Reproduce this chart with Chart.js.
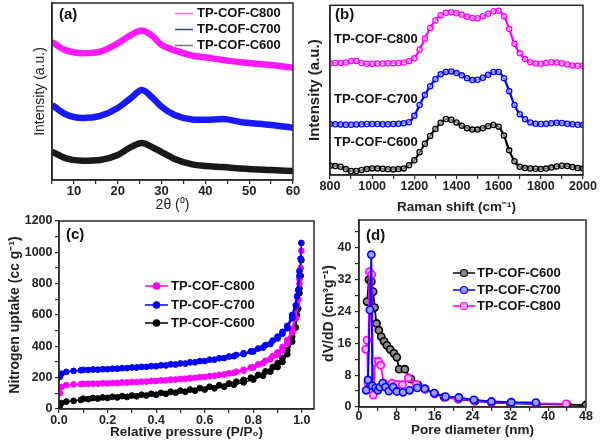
<!DOCTYPE html>
<html><head><meta charset="utf-8">
<script src="https://cdn.jsdelivr.net/npm/chart.js@4/dist/chart.umd.min.js"></script>
<style>
html,body{margin:0;padding:0;background:#fff;}
#wrap{position:relative;width:600px;height:445px;overflow:hidden;}
canvas{position:absolute;left:0;top:0;}
</style></head><body>
<div id="wrap">
<canvas id="ca" width="600" height="445"></canvas>
<canvas id="cb" width="600" height="445"></canvas>
<canvas id="cc" width="600" height="445"></canvas>
<canvas id="cd" width="600" height="445"></canvas>
</div>
<script>
// ---------- DATA ----------
const seriesNames = ['TP-COF-C800','TP-COF-C700','TP-COF-C600'];

// (a) XRD
const xrdAngle = [5,8,12,16,20,23,25.5,28,30,33,37,40,44,48,55,60];
const xrdC800 = [78.0,73.4,71.6,72.5,77.2,81.9,84.4,81.1,76.3,73.2,70.3,69.3,67.8,66.5,65.0,63.4];
const xrdC700 = [42.4,37.3,35.0,36.2,40.7,46.3,50.8,46.3,41.4,36.7,34.2,34.0,34.4,32.8,31.1,29.5];
const xrdC600 = [16.0,12.4,10.9,11.3,14.1,18.6,20.9,18.4,15.8,11.9,8.8,7.9,7.3,6.5,5.6,5.1];

// (b) Raman
const ramanShift = [800,825,850,875,900,925,950,975,1000,1025,1050,1075,1100,1125,1150,1175,1200,1225,1250,1275,1300,1325,1350,1375,1400,1425,1450,1475,1500,1525,1550,1575,1600,1625,1650,1675,1700,1725,1750,1775,1800,1825,1850,1875,1900,1925,1950,1975,2000];
const ramanC800 = [113.3,113.5,113.5,114,115.5,115.5,113.5,112.7,112.7,113,113,113.2,113.3,113.5,114,115.5,118.3,127,138.3,149,156.7,162,164.5,165,164,162.5,160.5,159.2,159,161,163.5,166,166.5,161,148,133,123.3,117.5,114.3,113,112.7,113.5,114.3,114,113.3,112,111,110.7,110.7];
const ramanC700 = [51.7,51.5,51.3,51,51,51.2,51.5,51.7,51.7,51.7,51.5,51.5,51.7,52,52.5,53.5,60,71,81,90,97,102,104.5,105,103.3,101,98,96.2,96.5,98.5,101.5,104.5,104.5,98,85,71,61.7,56.5,53.3,52,51.7,52,52.5,53,52.7,52,51.5,51,50.7];
const ramanC600 = [9.3,9,8.3,6,4,4,5,6,6.7,6.7,6.3,5.8,5.7,6,6.7,10,15,23,31.7,39.5,46.7,53,56.7,56,53.3,50,47.5,46,46,47.5,49.5,50.7,49,40,25,14,8.3,7,6.7,6.3,6,6.5,7.5,8.7,9.3,9,8,7,6.7];

// (c) N2 isotherms
const pressureAds = [0.003,0.01,0.03,0.06,0.09,0.12,0.16,0.2,0.24,0.28,0.32,0.36,0.4,0.44,0.48,0.52,0.56,0.6,0.64,0.68,0.72,0.76,0.8,0.84,0.87,0.9,0.92,0.94,0.96,0.975,0.985,0.99,0.995,0.998];
const uptakeAdsC700 = [205,225,237,243,247,249,251,254,257,261,265,269,273,278,284,290,298,306,315,325,337,350,367,392,415,450,480,515,580,660,760,850,960,1060];
const uptakeAdsC800 = [100,140,152,157,159,161,162,164,166,169,172,175,179,183,188,193,199,205,212,220,230,245,265,292,318,345,375,420,490,580,700,800,900,1010];
const uptakeAdsC600 = [15,38,47,52,58,63,67,71,74,77,81,86,91,97,104,110,117,124,132,142,155,170,188,212,238,268,300,350,430,520,640,740,850,950];
const pressureDes = [0.99,0.98,0.96,0.94,0.92,0.9,0.88,0.85,0.82,0.79,0.76,0.73,0.7,0.66,0.62,0.58,0.54,0.5,0.46,0.42,0.38,0.34,0.3,0.26,0.22,0.18,0.14,0.1];
const uptakeDesC700 = [880,720,600,530,492,462,437,408,386,368,356,345,335,324,315,306,298,291,285,279,274,269,265,261,257,254,252,250];
const uptakeDesC800 = [830,660,510,440,395,362,338,308,285,265,250,238,228,218,210,203,197,192,187,183,179,175,172,169,166,164,162,161];
const uptakeDesC600 = [770,600,460,375,325,292,268,240,218,200,186,174,163,152,142,133,124,117,110,103,97,91,86,82,78,74,70,66];

// (d) pore size distribution
const poreC600 = [1.7,2.1,2.6,3.0,3.3,3.7,4.2,4.7,5.3,5.9,6.6,7.4,8.0,8.5,9.7,11,12.5,14,16,18,21,24.5,28,32,37.5,44,48];
const dvC600 = [26.5,32,31.5,29,25,21,19.3,17.7,16.5,15.5,14.5,13.5,12.5,9.5,9.5,7,5.5,4.5,3.3,2.5,2,1.5,1.1,0.9,0.7,0.6,0.5];
const poreC700 = [1.5,1.9,2.3,2.6,2.8,3.5,4.0,4.4,5.0,5.6,6.3,7.2,8.0,9.3,10.7,12.3,13.9,15.9,18.3,21.1,24.3,28,32.2,37.4];
const dvC700 = [4.2,6.8,24.4,38.3,5.3,4.8,4.2,5.0,6.0,5.0,4.0,5.0,3.9,3.7,4.2,4.8,4.6,3.5,2.6,2.4,1.8,1.4,1.2,1.1];
const poreC800 = [1.4,1.7,1.9,2.2,2.7,3.0,3.4,4.1,4.6,5.2,7.0,8.1,9.2,10.4,12.1,14,16,18.3,21,24.3,28,32.2,37.4,43.8];
const dvC800 = [14.5,16.8,6,34,33.3,3,11.4,11.5,10.5,6,6,5.7,5.6,7.3,5.7,4.4,3.3,2.4,2.1,1.6,1.2,1.0,0.9,0.8];

// ---------- STYLE ----------
const FONT = "'Liberation Sans', Arial, Helvetica, sans-serif";
Chart.defaults.font.family = FONT;
Chart.defaults.color = '#222';
Chart.defaults.animation = false;
const MAG = '#ff00ff', BLU = '#0000ff', BLK = '#000000';
const AX = '#2a2a2a';

function pairs(xs, ys){ return xs.map((x,i)=>({x:x, y:ys[i]})); }

function mkScale(o){
  return {
    type:'linear', min:o.min, max:o.max, position:o.pos,
    afterFit:(s)=>{ if(o.w!==undefined) s.width=o.w; if(o.h!==undefined) s.height=o.h; },
    afterBuildTicks:(s)=>{
      const t=[]; const n=Math.floor((o.max-o.min)/o.step+1e-9);
      for(let k=0;k<=n;k++) t.push({value: +(o.min+k*o.step).toFixed(6)});
      s.ticks=t;
    },
    border:{display:true,color:AX,width:1.5},
    grid:{display:o.grid!==false, drawOnChartArea:false, drawTicks:true, tickLength:4, color:AX, lineWidth:1.2},
    ticks:{display:o.ticks!==false, stepSize:o.step, autoSkip:false, maxRotation:0,
      padding:o.pad||0, font:{size:o.tfs||12.5, weight:'bold'}, color:'#222',
      callback:(v)=> o.major(v) ? o.fmt(v) : ''},
    title:{display:true, text:o.title, font:{size:o.fs, weight:o.fw||'bold'}, color:'#222', padding:o.tpad}
  };
}
function isMult(v,m){ const r=v/m; return Math.abs(r-Math.round(r))<1e-6; }

function deco(opts){
  return {id:'deco'+opts.tag, afterDraw(chart){
    const ctx=chart.ctx, a=chart.chartArea;
    ctx.save();
    ctx.strokeStyle=AX; ctx.lineWidth=1.5;
    ctx.strokeRect(a.left,a.top,a.right-a.left,a.bottom-a.top);
    ctx.fillStyle='#111'; ctx.textBaseline='middle'; ctx.textAlign='left';
    ctx.font="bold 15px "+FONT;
    ctx.fillText(opts.panel, opts.px, opts.py);
    (opts.texts||[]).forEach(t=>{ ctx.font="bold "+t.fs+"px "+FONT; ctx.fillStyle='#111'; ctx.fillText(t.text,t.x,t.y); });
    (opts.legend||[]).forEach(L=>{
      ctx.strokeStyle=L.line; ctx.lineWidth=L.lw||1.5;
      ctx.beginPath(); ctx.moveTo(L.x1,L.y); ctx.lineTo(L.x2,L.y); ctx.stroke();
      if(L.r){ ctx.beginPath(); ctx.arc((L.x1+L.x2)/2,L.y,L.r,0,Math.PI*2); ctx.fillStyle=L.fill; ctx.fill(); ctx.strokeStyle=L.line; ctx.lineWidth=1.2; ctx.stroke(); }
      ctx.fillStyle='#111'; ctx.font="bold 13px "+FONT;
      ctx.fillText(L.text,L.tx,L.y);
    });
    ctx.restore();
  }};
}

// ---------- (a) ----------
function xrdSet(label,data,color){
  return {label, data:pairs(xrdAngle,data), borderColor:color, borderWidth:6.5, pointRadius:0,
    cubicInterpolationMode:'monotone', fill:false};
}
new Chart(document.getElementById('ca'), {
  type:'line',
  data:{datasets:[xrdSet(seriesNames[0],xrdC800,'rgba(255,0,255,0.9)'), xrdSet(seriesNames[1],xrdC700,'rgba(0,0,255,0.9)'), xrdSet(seriesNames[2],xrdC600,'rgba(0,0,0,0.9)')]},
  options:{responsive:false, devicePixelRatio:1, animation:false,
    layout:{padding:{left:0,right:307,top:3,bottom:225}},
    plugins:{legend:{display:false}, tooltip:{enabled:false}},
    scales:{
      x:mkScale({min:5,max:60,step:5,pos:'bottom',h:40,tfs:13,major:v=>isMult(v,10),fmt:v=>String(v),title:'2θ (⁰)',fs:14,fw:'normal',tpad:{top:0,bottom:6.6}}),
      y:mkScale({min:0,max:100,step:10,pos:'left',w:52,grid:false,ticks:false,major:()=>false,fmt:v=>'',title:'Intensity (a.u.)',fs:14,fw:'normal',tpad:{top:31.6,bottom:0}})
    }},
  plugins:[deco({tag:'a',panel:'(a)',px:59,py:15,legend:[
    {text:seriesNames[0],line:'#ff66ff',x1:175,x2:193,tx:197,y:13.5},
    {text:seriesNames[1],line:'#3333ff',x1:175,x2:193,tx:197,y:29.5},
    {text:seriesNames[2],line:'#777777',x1:175,x2:193,tx:197,y:45.5}]})]
});

// ---------- (b) ----------
function ramanSet(label,data,color){
  return {label, data:pairs(ramanShift,data), borderColor:color, borderWidth:2.2, pointRadius:2.6,
    pointBorderWidth:1.3, pointBorderColor:color, pointBackgroundColor:'rgba(255,255,255,0.5)', tension:0.3};
}
new Chart(document.getElementById('cb'), {
  type:'line',
  data:{datasets:[ramanSet(seriesNames[0],ramanC800,MAG), ramanSet(seriesNames[1],ramanC700,BLU), ramanSet(seriesNames[2],ramanC600,BLK)]},
  options:{responsive:false, devicePixelRatio:1, animation:false,
    layout:{padding:{left:300,right:17,top:3,bottom:230}},
    plugins:{legend:{display:false}, tooltip:{enabled:false}},
    scales:{
      x:mkScale({min:800,max:2000,step:100,pos:'bottom',h:40,major:v=>isMult(v,200),fmt:v=>String(v),title:'Raman shift (cm⁻¹)',fs:13.5,tpad:{top:0,bottom:0}}),
      y:mkScale({min:0,max:172,step:10,pos:'left',w:30,grid:false,ticks:false,major:()=>false,fmt:v=>'',title:'Intensity (a.u.)',fs:15,tpad:{top:6,bottom:0}})
    }},
  plugins:[deco({tag:'b',panel:'(b)',px:335,py:15,texts:[
    {text:seriesNames[0],x:334,y:39.5,fs:13},
    {text:seriesNames[1],x:334,y:99.5,fs:13},
    {text:seriesNames[2],x:334,y:142.5,fs:13}]})]
});

// ---------- (c) ----------
function isoSet(label,xs,ys,color){
  return {label, data:pairs(xs,ys), borderColor:color, borderWidth:1.5, pointRadius:2.9,
    pointBackgroundColor:color, pointBorderColor:color, pointBorderWidth:1, tension:0};
}
new Chart(document.getElementById('cc'), {
  type:'line',
  data:{datasets:[
    isoSet(seriesNames[1]+' ads',pressureAds,uptakeAdsC700,BLU), isoSet(seriesNames[1]+' des',pressureDes,uptakeDesC700,BLU),
    isoSet(seriesNames[0]+' ads',pressureAds,uptakeAdsC800,MAG), isoSet(seriesNames[0]+' des',pressureDes,uptakeDesC800,MAG),
    isoSet(seriesNames[2]+' ads',pressureAds,uptakeAdsC600,BLK), isoSet(seriesNames[2]+' des',pressureDes,uptakeDesC600,BLK)]},
  options:{responsive:false, devicePixelRatio:1, animation:false,
    layout:{padding:{left:0,right:286,top:221,bottom:0}},
    plugins:{legend:{display:false}, tooltip:{enabled:false}},
    scales:{
      x:mkScale({min:0,max:1.05,step:0.1,pos:'bottom',h:36,major:v=>isMult(v,0.2)&&v<1.01,fmt:v=>v.toFixed(1),title:'Relative pressure (P/P₀)',fs:13.5,tpad:{top:0,bottom:4.9}}),
      y:mkScale({min:0,max:1200,step:100,pos:'left',w:59,pad:2.5,major:v=>isMult(v,200),fmt:v=>String(v),title:'Nitrogen uptake (cc g⁻¹)',fs:14,tpad:{top:6.6,bottom:0}})
    }},
  plugins:[deco({tag:'c',panel:'(c)',px:66,py:235,legend:[
    {text:seriesNames[0],line:MAG,fill:MAG,r:3.2,x1:145,x2:168,tx:171,y:286},
    {text:seriesNames[1],line:BLU,fill:BLU,r:3.2,x1:145,x2:168,tx:171,y:305},
    {text:seriesNames[2],line:BLK,fill:BLK,r:3.2,x1:145,x2:168,tx:171,y:323}]})]
});

// ---------- (d) ----------
function psdSet(label,xs,ys,color,fillc){
  return {label, data:pairs(xs,ys), borderColor:color, borderWidth:1.8, pointRadius:3.6,
    pointBackgroundColor:fillc, pointBorderColor:color, pointBorderWidth:1.6, tension:0};
}
new Chart(document.getElementById('cd'), {
  type:'line',
  data:{datasets:[
    psdSet(seriesNames[1],poreC700,dvC700,BLU,'#9a9aff'),
    psdSet(seriesNames[0],poreC800,dvC800,MAG,'#ffb0ff'),
    psdSet(seriesNames[2],poreC600,dvC600,BLK,'#8a8a8a')]},
  options:{responsive:false, devicePixelRatio:1, animation:false,
    layout:{padding:{left:320,right:14,top:220,bottom:0}},
    plugins:{legend:{display:false}, tooltip:{enabled:false}},
    scales:{
      x:mkScale({min:0,max:48,step:4,pos:'bottom',h:38,pad:-2,major:v=>isMult(v,8),fmt:v=>String(v),title:'Pore diameter (nm)',fs:13.5,tpad:{top:0,bottom:6.9}}),
      y:mkScale({min:0,max:47,step:4,pos:'left',w:39,pad:3.5,major:v=>isMult(v,8),fmt:v=>String(v),title:'dV/dD (cm³g⁻¹)',fs:14,tpad:{top:0.6,bottom:0}})
    }},
  plugins:[deco({tag:'d',panel:'(d)',px:366,py:236,legend:[
    {text:seriesNames[2],line:BLK,fill:'#8a8a8a',r:3.5,x1:453,x2:475,tx:477,y:273},
    {text:seriesNames[1],line:BLU,fill:'#9a9aff',r:3.5,x1:453,x2:475,tx:477,y:290},
    {text:seriesNames[0],line:MAG,fill:'#ffb0ff',r:3.5,x1:453,x2:475,tx:477,y:306}]})]
});
</script>
</body></html>
